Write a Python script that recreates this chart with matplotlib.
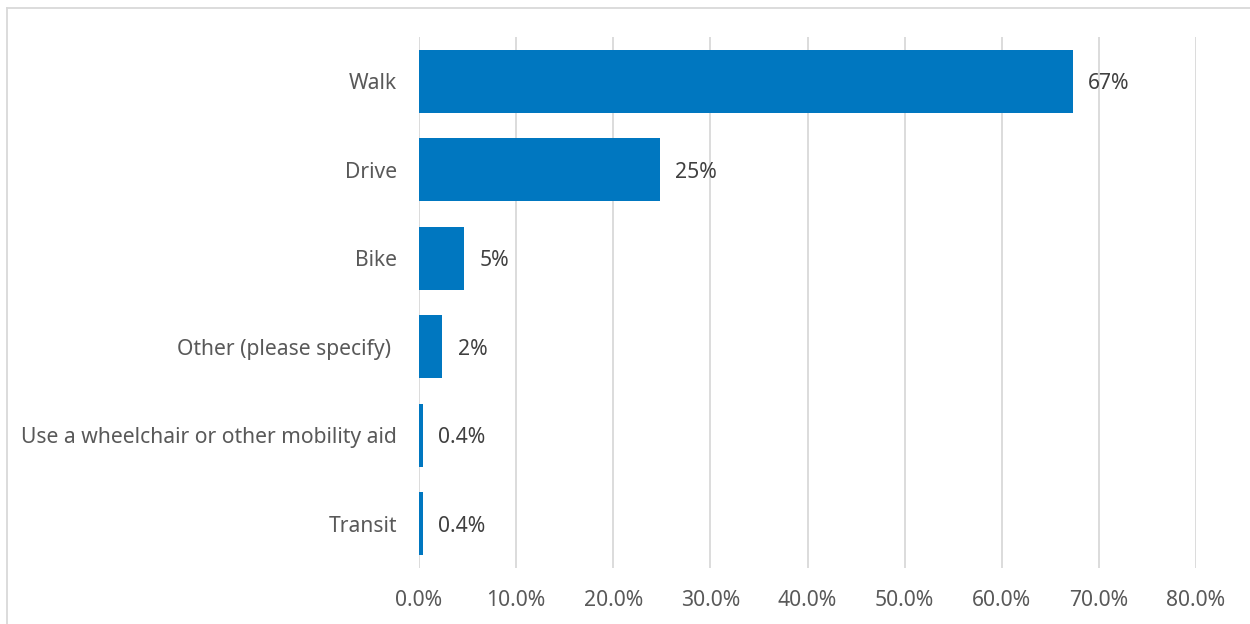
import matplotlib.pyplot as plt
from matplotlib.lines import Line2D

categories = ["Walk", "Drive", "Bike", "Other (please specify) ",
              "Use a wheelchair or other mobility aid", "Transit"]
values = [67.3, 24.8, 4.6, 2.4, 0.4, 0.4]
labels = ["67%", "25%", "5%", "2%", "0.4%", "0.4%"]
ticks = [0, 10, 20, 30, 40, 50, 60, 70, 80]

plt.rcParams["font.family"] = ["Noto Sans", "DejaVu Sans"]

fig = plt.figure(figsize=(12.5, 6.24), dpi=100)
ax = fig.add_axes([419 / 1250, 1 - 568 / 624, (1196 - 419) / 1250, (568 - 37) / 624])

pos = list(range(len(categories)))
ax.barh(pos, values, height=0.71, color="#0077C0", zorder=3)
for p, v, lab in zip(pos, values, labels):
    ax.text(v + 1.6, p + 0.03, lab, va="center", ha="left", fontsize=15.2, color="#404040")

ax.set_xlim(0, 80)
ax.set_ylim(len(categories) - 0.5, -0.5)
ax.set_xticks(ticks)
ax.set_xticklabels([f"{t:.1f}%" for t in ticks])
ax.set_yticks(pos)
ax.set_yticklabels(categories)
ax.tick_params(axis="both", length=0, labelsize=15.2, colors="#595959")
ax.tick_params(axis="y", pad=16)
ax.tick_params(axis="x", pad=16)
ax.grid(axis="x", color="#d9d9d9", linewidth=1.3, zorder=0)
for s in ax.spines.values():
    s.set_visible(False)

# outer chart border (top and left visible)
fig.add_artist(Line2D([7 / 1250, 1], [1 - 8 / 624, 1 - 8 / 624], color="#d9d9d9", lw=1.3))
fig.add_artist(Line2D([7 / 1250, 7 / 1250], [0, 1 - 8 / 624], color="#d9d9d9", lw=1.3))

fig.savefig("out.png", dpi=100)
